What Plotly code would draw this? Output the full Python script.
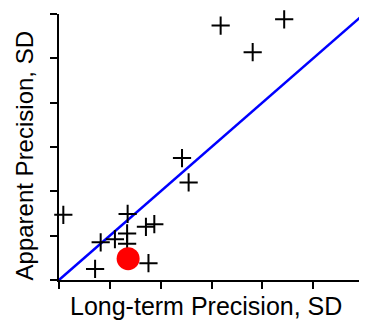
import plotly.graph_objects as go

# Data
long_term_sd = [3.18, 4.43, 3.81, 2.42, 2.55, 0.085, 1.35, 1.71, 1.875, 1.34, 1.10, 0.82, 1.34, 0.71, 1.76]
apparent_sd = [5.74, 5.88, 5.14, 2.75, 2.20, 1.47, 1.49, 1.20, 1.26, 1.05, 0.92, 0.85, 0.82, 0.25, 0.38]
highlight_x = [1.36]
highlight_y = [0.48]
identity_x = [0, 6]
identity_y = [0, 6]
tick_vals = [0, 1, 2, 3, 4, 5, 6]
x_title = "Long-term Precision, SD"
y_title = "Apparent Precision, SD"

fig = go.Figure()
fig.add_trace(go.Scatter(x=identity_x, y=identity_y, mode="lines",
                         line=dict(color="#0000FF", width=2.5), hoverinfo="skip"))
fig.add_trace(go.Scatter(x=long_term_sd, y=apparent_sd, mode="markers",
                         marker=dict(symbol="cross-thin", size=13,
                                     line=dict(color="black", width=2)),
                         cliponaxis=False))
fig.add_trace(go.Scatter(x=highlight_x, y=highlight_y, mode="markers",
                         marker=dict(symbol="circle", size=23, color="#FF0000"),
                         cliponaxis=False))

axis_common = dict(range=[0, 6], tickvals=tick_vals, showticklabels=False,
                   ticks="outside", ticklen=7, tickwidth=2, tickcolor="black",
                   showline=True, linecolor="black", linewidth=2,
                   showgrid=False, zeroline=False, fixedrange=True,
                   automargin=False)

# The page body has an 8px default margin, so the figure is sized to fit the window.
fig.update_layout(
    width=359, height=320,
    margin=dict(l=51, r=3, t=6, b=48),
    paper_bgcolor="white", plot_bgcolor="white",
    showlegend=False,
    font=dict(family="Liberation Sans, Arial, sans-serif", color="black"),
    xaxis=axis_common,
    yaxis=axis_common,
    annotations=[
        dict(text=x_title, xref="paper", yref="paper", x=0.4826, y=-0.0376,
             xanchor="center", yanchor="top", showarrow=False,
             font=dict(size=25)),
        dict(text=y_title, xref="paper", yref="paper", x=-0.1134, y=0.466,
             xanchor="center", yanchor="middle", showarrow=False, textangle=-90,
             font=dict(size=24)),
    ],
)

fig.write_html("out.html")
